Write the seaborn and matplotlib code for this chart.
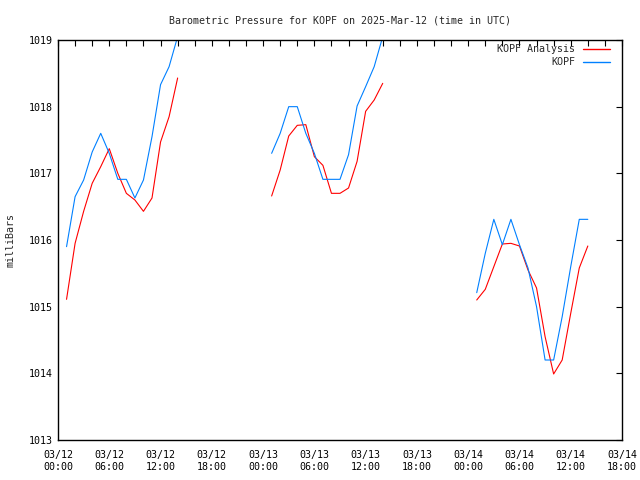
import numpy as np
import pandas as pd
import matplotlib
matplotlib.use("Agg")
import matplotlib.pyplot as plt
import matplotlib.dates as mdates
import seaborn as sns

# hours since 2025-03-12 00:00 UTC, per segment
seg_hours = [
    list(range(1, 15)),
    list(range(25, 39)),
    list(range(49, 63)),
]
analysis_vals = [
    [1015.11, 1015.95, 1016.43, 1016.85, 1017.10, 1017.37, 1017.00, 1016.70,
     1016.60, 1016.43, 1016.63, 1017.47, 1017.85, 1018.43],
    [1016.66, 1017.05, 1017.56, 1017.72, 1017.73, 1017.25, 1017.12, 1016.70,
     1016.70, 1016.78, 1017.18, 1017.93, 1018.10, 1018.35],
    [1015.10, 1015.26, 1015.60, 1015.94, 1015.95, 1015.91, 1015.55, 1015.28,
     1014.55, 1013.99, 1014.20, 1014.90, 1015.58, 1015.91],
]
kopf_vals = [
    [1015.90, 1016.65, 1016.90, 1017.32, 1017.60, 1017.30, 1016.91, 1016.91,
     1016.63, 1016.90, 1017.55, 1018.33, 1018.60, 1019.05],
    [1017.30, 1017.60, 1018.00, 1018.00, 1017.60, 1017.30, 1016.91, 1016.91,
     1016.91, 1017.28, 1018.01, 1018.30, 1018.60, 1019.05],
    [1015.21, 1015.80, 1016.31, 1015.93, 1016.31, 1015.93, 1015.58, 1015.00,
     1014.20, 1014.20, 1014.85, 1015.60, 1016.31, 1016.31],
]
series_names = ["KOPF Analysis", "KOPF"]
series_colors = ["#ff0000", "#0080ff"]
yticks = [1013, 1014, 1015, 1016, 1017, 1018, 1019]

base = pd.Timestamp("2025-03-12 00:00")
rows = []
for name, vals in zip(series_names, [analysis_vals, kopf_vals]):
    for s, (hrs, vs) in enumerate(zip(seg_hours, vals)):
        for h, v in zip(hrs, vs):
            rows.append({"time": base + pd.Timedelta(hours=h), "p": v,
                         "series": name, "seg": s})
df = pd.DataFrame(rows)

sns.set_style("white")
plt.rcParams["font.family"] = ["DejaVu Sans Mono"]
plt.rcParams["font.size"] = 7.2

fig = plt.figure(figsize=(6.4, 4.8), dpi=100)
ax = fig.add_axes([58/640, 1-440/480, (622-58)/640, 400/480])

sns.lineplot(data=df, x="time", y="p", hue="series", units="seg",
             estimator=None, hue_order=series_names,
             palette=dict(zip(series_names, series_colors)),
             linewidth=0.8, ax=ax)

ax.set_xlim(base, base + pd.Timedelta(hours=66))
ax.set_ylim(1013, 1019)
ax.set_yticks(yticks)
ax.set_yticklabels([str(t) for t in yticks])
ax.xaxis.set_major_locator(mdates.HourLocator(byhour=[0, 6, 12, 18]))
ax.xaxis.set_minor_locator(mdates.HourLocator(byhour=range(0, 24, 2)))
ax.xaxis.set_major_formatter(mdates.DateFormatter("%m/%d\n%H:%M"))
ax.tick_params(which="both", direction="in", top=True, right=True,
               length=4, width=0.8, colors="black", labelsize=7.2)
ax.tick_params(axis="x", pad=7)
ax.tick_params(axis="y", pad=4)
for lab in ax.get_xticklabels():
    lab.set_linespacing(1.3)
for sp in ax.spines.values():
    sp.set_color("black")
    sp.set_linewidth(1.0)

ax.set_xlabel("")
ax.set_ylabel("milliBars", fontsize=7.2)
ax.yaxis.set_label_coords(-0.076, 0.5)
ax.set_title("Barometric Pressure for KOPF on 2025-Mar-12 (time in UTC)",
             fontsize=7.2, pad=12)

leg = ax.legend(loc="upper right", frameon=False, markerfirst=False,
                handlelength=2.7, handletextpad=0.8, labelspacing=0.3,
                borderaxespad=0.15, borderpad=0.3, fontsize=7.2,
                bbox_to_anchor=(0.987, 1.0))
for line in leg.get_lines():
    line.set_linewidth(1.0)

fig.savefig("out.png", dpi=100)
